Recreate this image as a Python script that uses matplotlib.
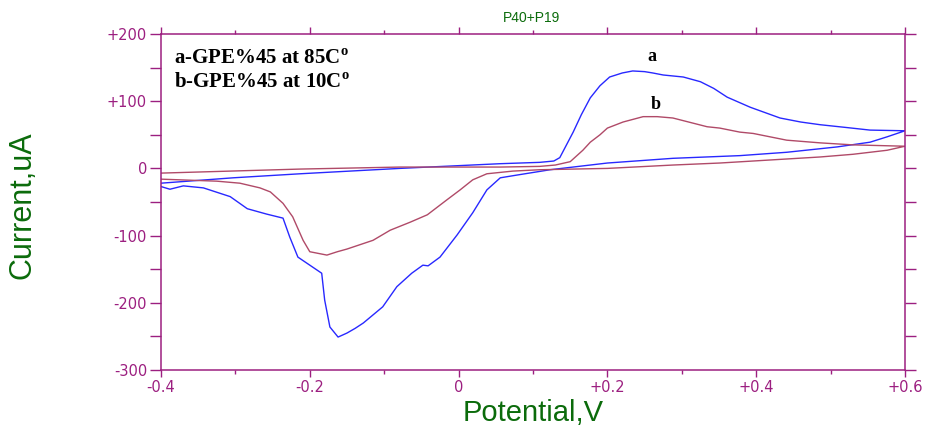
import matplotlib
matplotlib.use("Agg")
import matplotlib.pyplot as plt
from matplotlib.ticker import MultipleLocator, FuncFormatter

### colours
AXIS_COLOR = "#9c1f80"
GREEN = "#0b6b0b"
BLUE = "#2828ff"
RED = "#b04a68"

### curve a (85 C): anodic sweep then return sweep
a_fwd_x = [-0.4, -0.303, -0.213, -0.079, 0.056, 0.109, 0.128, 0.136, 0.145, 0.154, 0.165,
           0.177, 0.19, 0.203, 0.22, 0.234, 0.25, 0.261, 0.275, 0.302, 0.325, 0.343,
           0.361, 0.392, 0.432, 0.46, 0.486, 0.52, 0.553, 0.6]
a_fwd_y = [-22, -14, -8, 0, 7, 9, 11, 16, 35, 54, 80,
           105, 123, 136, 142, 145, 144, 142, 139, 136, 129, 119,
           106, 91, 75, 69, 65, 61, 57, 56]
a_rev_x = [0.6, 0.576, 0.553, 0.509, 0.441, 0.378, 0.288, 0.2, 0.123, 0.078, 0.056, 0.038,
           0.019, -0.002, -0.025, -0.041, -0.048, -0.063, -0.083, -0.102, -0.128, -0.139,
           -0.15, -0.162, -0.173, -0.18, -0.184, -0.2, -0.216, -0.227, -0.236, -0.258,
           -0.284, -0.307, -0.343, -0.37, -0.388, -0.4]
a_rev_y = [56, 47, 39, 32, 24, 19, 15, 8, -2, -10, -14, -32,
           -66, -99, -132, -145, -144, -156, -176, -206, -230, -238,
           -245, -251, -236, -196, -156, -144, -132, -102, -74, -68,
           -60, -42, -29, -26, -31, -27]

### curve b (10 C)
b_fwd_x = [-0.4, -0.213, -0.079, 0.056, 0.109, 0.13, 0.15, 0.167, 0.177, 0.19, 0.2, 0.221,
           0.248, 0.267, 0.288, 0.334, 0.351, 0.378, 0.396, 0.441, 0.486, 0.53, 0.6]
b_fwd_y = [-7, -1, 2, 2, 3, 5, 10, 27, 39, 50, 60, 69,
           77, 77, 75, 62, 60, 54, 52, 42, 38, 35, 33]
b_rev_x = [0.6, 0.576, 0.53, 0.486, 0.441, 0.351, 0.288, 0.2, 0.109, 0.073, 0.038, 0.019,
           0.002, -0.016, -0.042, -0.065, -0.092, -0.115, -0.15, -0.163, -0.177, -0.2,
           -0.209, -0.223, -0.236, -0.253, -0.267, -0.294, -0.325, -0.4]
b_rev_y = [33, 27, 21, 17, 14, 8, 5, 0, -2, -4, -8, -17,
           -32, -47, -69, -80, -92, -107, -120, -124, -129, -124,
           -107, -72, -52, -35, -29, -22, -19, -16]

TITLE = "P40+P19"
LEGEND_LINES = ["a-GPE%45 at 85C", "b-GPE%45 at 10C"]


def signed(v, pos):
    if abs(v) < 1e-9:
        return "0"
    if v > 0:
        return f"+{v:g}"
    return f"-{abs(v):g}"


def main():
    plt.rcParams["mathtext.fontset"] = "custom"
    plt.rcParams["mathtext.bf"] = "Liberation Serif:bold"
    plt.rcParams["mathtext.rm"] = "Liberation Serif"

    fig = plt.figure(figsize=(9.25, 4.30), dpi=100)
    ax = fig.add_axes([161 / 925, 60 / 430, 744 / 925, 336 / 430])

    ax.plot(a_fwd_x + a_rev_x, a_fwd_y + a_rev_y, color=BLUE, lw=1.0)
    ax.plot(b_fwd_x + b_rev_x, b_fwd_y + b_rev_y, color=RED, lw=1.0)

    ax.set_xlim(-0.4, 0.6)
    ax.set_ylim(-300, 200)

    ### axes styling
    for sp in ax.spines.values():
        sp.set_color(AXIS_COLOR)
        sp.set_linewidth(1.1)
    ax.xaxis.set_major_locator(MultipleLocator(0.2))
    ax.xaxis.set_minor_locator(MultipleLocator(0.1))
    ax.yaxis.set_major_locator(MultipleLocator(100))
    ax.yaxis.set_minor_locator(MultipleLocator(50))
    ax.xaxis.set_major_formatter(FuncFormatter(signed))
    ax.yaxis.set_major_formatter(FuncFormatter(signed))
    ax.tick_params(which="both", direction="out", color=AXIS_COLOR, width=1.0,
                   labelcolor=AXIS_COLOR, labelsize=10.5,
                   top=True, right=True, labeltop=False, labelright=False)
    ax.tick_params(axis="x", which="major", length=5, pad=2)
    ax.tick_params(axis="x", which="minor", length=3)
    ax.tick_params(axis="y", which="both", length=8, pad=2)

    ### axis labels and title
    fig.text(533 / 925, 1 - 413 / 430, "Potential,V", color=GREEN, fontsize=21,
             family="Liberation Sans", ha="center", va="center")
    fig.text(23 / 925, 1 - 205 / 430, "Current,uA", color=GREEN, fontsize=22,
             family="Liberation Sans", ha="center", va="center", rotation=90)
    fig.text(531 / 925, 1 - 18 / 430, TITLE, color=GREEN, fontsize=10,
             family="Liberation Sans", ha="center", va="center")

    ### in-plot text
    ax.text(0.017, 0.91, LEGEND_LINES[0] + r"$^{\mathbf{o}}$", transform=ax.transAxes,
            family="Liberation Serif", fontweight="bold", fontsize=15, va="baseline")
    ax.text(0.017, 0.84, LEGEND_LINES[1] + r"$^{\mathbf{o}}$", transform=ax.transAxes,
            family="Liberation Serif", fontweight="bold", fontsize=15, va="baseline")
    ax.text(0.26, 166, "a", family="Liberation Serif", fontweight="bold", fontsize=13,
            ha="center", va="center")
    ax.text(0.265, 95, "b", family="Liberation Serif", fontweight="bold", fontsize=13,
            ha="center", va="center")

    fig.savefig("out.png", dpi=100)
    plt.close(fig)


if __name__ == "__main__":
    main()
